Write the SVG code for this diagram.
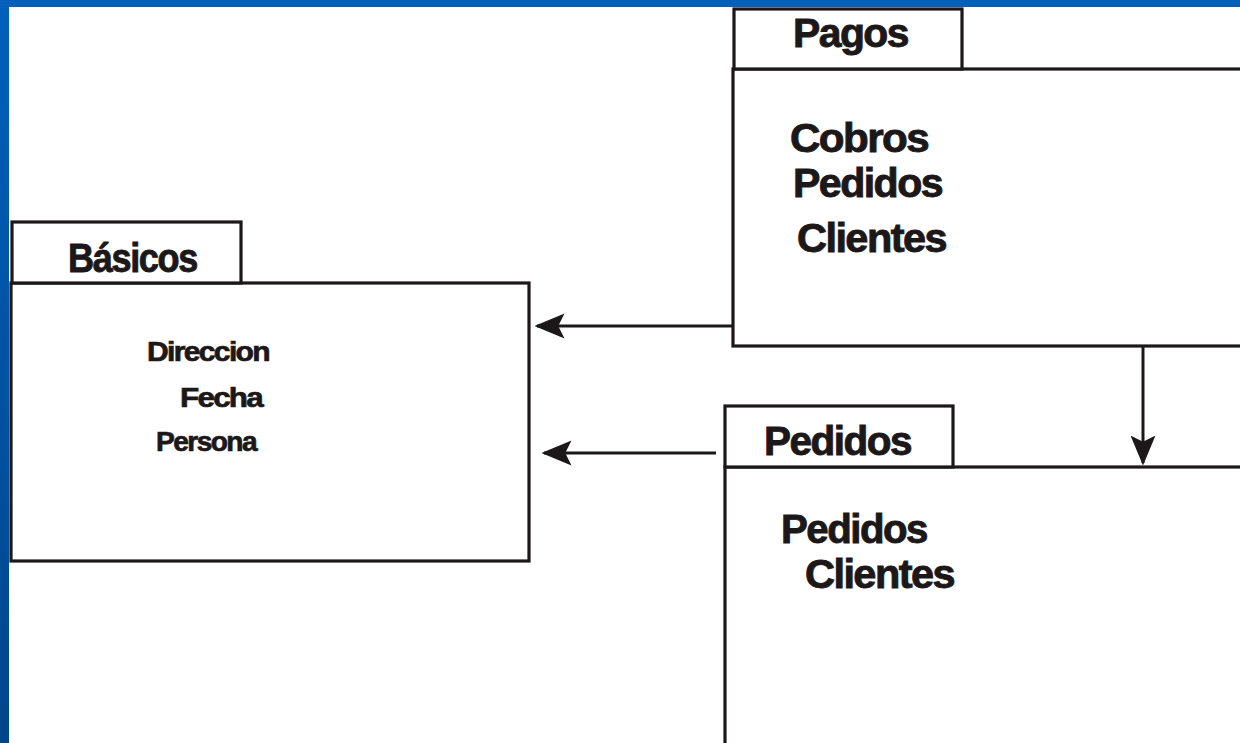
<svg xmlns="http://www.w3.org/2000/svg" width="1240" height="743" viewBox="0 0 1240 743">
<defs>
<linearGradient id="lb" x1="0" y1="0" x2="0" y2="1">
<stop offset="0" stop-color="#0060BC"/>
<stop offset="1" stop-color="#00468C"/>
</linearGradient>
<marker id="ah" viewBox="0 0 12 10" refX="11" refY="5" markerWidth="10" markerHeight="8.4" markerUnits="strokeWidth" orient="auto">
<path d="M0,0 L12,5 L0,10 L2.5,5 Z" fill="#1c1819"/>
</marker>
<style>
.box{fill:#fff;stroke:#1c1819;stroke-width:3.2}
.t{font-family:"Liberation Sans",Arial,sans-serif;font-weight:bold;fill:#1c1819;stroke:#1c1819;stroke-width:0.9px;letter-spacing:-1.5px}
.big{font-size:40px}
.sm{font-size:27px;stroke-width:0.7px}
.c{fill:none;stroke:#1c1819;stroke-width:3}
</style>
</defs>
<rect x="0" y="0" width="1240" height="743" fill="#fff"/>
<rect x="0" y="0" width="1240" height="7" fill="#0060BC"/>
<rect x="0" y="0" width="9" height="743" fill="url(#lb)"/>

<g id="basicos">
<rect class="box" x="11" y="283" width="518" height="278"/>
<rect class="box" x="12" y="222" width="229" height="61"/>
<text class="t big" x="68" y="272" textLength="129" lengthAdjust="spacingAndGlyphs">Básicos</text>
<text class="t sm" x="147" y="361" textLength="122" lengthAdjust="spacingAndGlyphs">Direccion</text>
<text class="t sm" x="180" y="407" textLength="82" lengthAdjust="spacingAndGlyphs">Fecha</text>
<text class="t sm" x="156" y="451" textLength="100" lengthAdjust="spacingAndGlyphs">Persona</text>
</g>

<g id="pagos">
<rect class="box" x="733" y="69" width="520" height="277"/>
<rect class="box" x="734" y="9" width="228" height="60"/>
<text class="t big" x="793" y="47" textLength="115" lengthAdjust="spacingAndGlyphs">Pagos</text>
<text class="t big" x="790" y="152" textLength="138" lengthAdjust="spacingAndGlyphs">Cobros</text>
<text class="t big" x="793" y="197" textLength="149" lengthAdjust="spacingAndGlyphs">Pedidos</text>
<text class="t big" x="797" y="252" textLength="149" lengthAdjust="spacingAndGlyphs">Clientes</text>
</g>

<g id="pedidos">
<rect class="box" x="725" y="467" width="530" height="290"/>
<rect class="box" x="725" y="406" width="228" height="61"/>
<text class="t big" x="764" y="455" textLength="147" lengthAdjust="spacingAndGlyphs">Pedidos</text>
<text class="t big" x="781" y="543" textLength="146" lengthAdjust="spacingAndGlyphs">Pedidos</text>
<text class="t big" x="805" y="588" textLength="149" lengthAdjust="spacingAndGlyphs">Clientes</text>
</g>

<g id="connectors">
<line class="c" x1="732" y1="326" x2="537" y2="326" marker-end="url(#ah)"/>
<line class="c" x1="716" y1="453" x2="544" y2="453" marker-end="url(#ah)"/>
<line class="c" x1="1143" y1="347" x2="1143" y2="463" marker-end="url(#ah)"/>
</g>
</svg>
